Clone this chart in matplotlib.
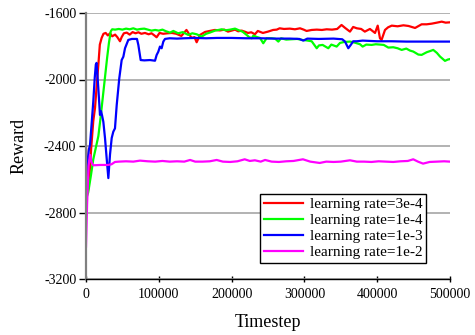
import matplotlib
matplotlib.use("Agg")
import matplotlib.pyplot as plt

# ---------------- data ----------------
red_x = [0, 2500, 5000, 7000, 10000, 12400, 15000, 17000, 19000, 21500, 24000, 27000, 30000, 33000, 36000,
         40000, 43000, 46700, 49000, 52000, 56000, 60000, 64000, 68000, 72000, 76000, 81000, 86000, 90000,
         94000, 97000, 101000, 106000, 112000, 118000, 124000, 131000, 138000, 145000, 149000, 152000,
         156600, 163500, 170000, 177000, 184000, 190000, 195000, 200000, 204700, 209000, 213900, 218000,
         222500, 227000, 232000, 236000, 243000, 250000, 257000, 262000, 266000, 272000, 280000, 287000,
         294000, 299000, 303000, 310000, 317000, 324000, 330600, 338000, 345000, 351000, 356000, 362600,
         367000, 372000, 378000, 383000, 390000, 397000, 400700, 403800, 406000, 410700, 415000, 420000,
         428000, 436000, 443000, 452000, 461000, 468000, 475000, 482000, 488600, 494000, 500000]
red_y = [-2400, -2680, -2560, -2420, -2250, -2170, -2020, -1910, -1790, -1750, -1725, -1720, -1735, -1722, -1740,
         -1730, -1745, -1770, -1745, -1722, -1718, -1730, -1715, -1722, -1716, -1725, -1720, -1728, -1722,
         -1735, -1746, -1720, -1725, -1722, -1720, -1725, -1738, -1702, -1750, -1745, -1776,
         -1732, -1714, -1708, -1702, -1705, -1700, -1712, -1706, -1700, -1710, -1706, -1712,
         -1720, -1716, -1728, -1708, -1720, -1712, -1702, -1700, -1692, -1696, -1694, -1698,
         -1692, -1700, -1708, -1702, -1700, -1702, -1698, -1700, -1696, -1672, -1690, -1712,
         -1684, -1692, -1696, -1712, -1696, -1720, -1676, -1752, -1762, -1702, -1686, -1676,
         -1680, -1674, -1678, -1690, -1668, -1668, -1664, -1658, -1652, -1658, -1656]

green_x = [0, 3000, 7000, 10000, 13000, 17000, 20000, 23000, 26000, 29000, 31500, 34000, 36000, 40000,
           45000, 50000, 55000, 60000, 65000, 70000, 75000, 80000, 85000, 90000, 95000, 100000, 105000,
           110000, 115400, 120000, 126500, 133000, 140500, 146000, 152000, 159000, 165000, 170000, 177200,
           182000, 186400, 192000, 198000, 204700, 210000, 215000, 220700, 224000, 227600, 230000, 235000,
           239000, 243500, 248000, 255000, 260000, 264200, 268000, 275000, 282000, 290000, 297000, 303000,
           310000, 316900, 320000, 325000, 332800, 337000, 344300, 348900, 355000, 362600, 369000, 376400,
           380000, 385000, 392400, 398000, 404000, 409000, 415300, 422000, 428000, 433600, 440000, 445000,
           449600, 456500, 461000, 468000, 472000, 477000, 482000, 486300, 490000, 493100, 497000, 500000]
green_y = [-2720, -2680, -2570, -2480, -2420, -2340, -2230, -2110, -1990, -1870, -1780, -1710, -1698, -1700,
           -1696, -1700, -1694, -1698, -1692, -1700, -1696, -1694, -1700, -1706, -1702, -1706, -1700,
           -1710, -1718, -1708, -1722, -1715, -1732, -1722, -1728, -1742, -1725, -1718, -1706,
           -1702, -1698, -1704, -1700, -1694, -1704, -1712, -1732, -1745, -1752, -1736, -1745,
           -1750, -1782, -1752, -1752, -1755, -1772, -1752, -1760, -1758, -1756, -1762, -1765,
           -1770, -1812, -1795, -1792, -1812, -1790, -1802, -1780, -1774, -1772, -1778, -1788,
           -1802, -1790, -1792, -1788, -1790, -1792, -1808, -1806, -1812, -1822, -1814, -1826,
           -1832, -1850, -1852, -1836, -1830, -1822, -1840, -1862, -1876, -1888, -1880, -1877]

blue_x = [0, 2000, 4000, 5500, 8000, 10000, 12000, 13500, 14500, 16900, 19200, 20600, 22000, 23800, 26100,
          28500, 30700, 33000, 35300, 37500, 39800, 42200, 45700, 49000, 51300, 53600, 58100, 63000, 70000,
          71900, 75100, 80000, 87900, 94800, 97000, 99300, 101600, 103900, 106200, 108500, 115000, 125000,
          135000, 150000, 165000, 180000, 200000, 220000, 240000, 260000, 280000, 293000, 298500, 304000,
          320000, 340000, 352000, 355800, 360300, 364000, 367000, 372000, 380000, 400000, 420000, 440000,
          460000, 480000, 500000]
blue_y = [-2640, -2500, -2420, -2394, -2250, -2133, -1990, -1910, -1900, -2051, -2213, -2190, -2215, -2254, -2352,
          -2480, -2593, -2450, -2352, -2314, -2294, -2153, -1993, -1883, -1863, -1812, -1762, -1756, -1756,
          -1792, -1883, -1885, -1883, -1887, -1853, -1833, -1802, -1812, -1772, -1756, -1752, -1754,
          -1752, -1750, -1752, -1750, -1750, -1752, -1752, -1754, -1754, -1756, -1766, -1754,
          -1756, -1754, -1758, -1772, -1812, -1790, -1770, -1770, -1766, -1770, -1770, -1772,
          -1772, -1772, -1772]

magenta_x = [0, 1500, 3500, 5500, 7800, 10000, 20000, 30000, 35000, 39800, 45000, 55000, 65000, 74200, 85000,
             95000, 105000, 115000, 125000, 135000, 143000, 150000, 160000, 170000, 179500, 188000, 198000,
             208000, 218000, 225000, 232000, 240000, 246000, 255000, 265000, 275000, 285000, 298000, 308000,
             321000, 330000, 340000, 350000, 362600, 372000, 382000, 392000, 402000, 412000, 422000, 432000,
             442000, 449500, 456000, 463000, 472000, 482000, 492000, 500000]
magenta_y = [-3005, -2750, -2520, -2454, -2500, -2516, -2514, -2514, -2510, -2496, -2494, -2492, -2494, -2488, -2492,
             -2494, -2490, -2494, -2492, -2494, -2484, -2494, -2494, -2492, -2484, -2494, -2496,
             -2492, -2480, -2490, -2486, -2494, -2484, -2494, -2496, -2492, -2490, -2480, -2494,
             -2502, -2494, -2496, -2494, -2486, -2494, -2494, -2496, -2492, -2494, -2496, -2492,
             -2490, -2480, -2494, -2506, -2496, -2494, -2492, -2494]

labels = ["learning rate=3e-4", "learning rate=1e-4", "learning rate=1e-3", "learning rate=1e-2"]
colors = ["#ff0000", "#00ff00", "#0000ff", "#ff00ff"]
x_ticks = [0, 100000, 200000, 300000, 400000, 500000]
y_ticks = [-3200, -2800, -2400, -2000, -1600]

# ---------------- plot ----------------
plt.rcParams['font.family'] = ['Liberation Serif', 'DejaVu Serif']

fig = plt.figure(figsize=(4.75, 3.35), dpi=100)
ax = fig.add_axes([86/475, 1-279/335, (450-86)/475, (279-13)/335])

series = [(red_x, red_y), (green_x, green_y), (blue_x, blue_y), (magenta_x, magenta_y)]
for (xs, ys), c, lab in zip(series, colors, labels):
    ax.plot(xs, ys, color=c, lw=1.6, label=lab)

ax.set_xlim(0, 500000)
ax.set_ylim(-3200, -1600)
ax.set_xticks(x_ticks)
ax.set_xticklabels([str(v) for v in x_ticks])
ax.set_yticks(y_ticks)
ax.set_yticklabels([str(v) for v in y_ticks])
ax.yaxis.grid(True, color="#a6a6a6", lw=1.2)
ax.set_axisbelow(True)
ax.spines['top'].set_visible(False)
ax.spines['right'].set_visible(False)
ax.spines['left'].set_color("#808080")
ax.spines['left'].set_linewidth(1.6)
ax.spines['bottom'].set_color("black")
ax.spines['bottom'].set_linewidth(1.0)
ax.tick_params(axis='y', direction='out', length=5, width=1, color='black', labelsize=10, pad=2)
ax.tick_params(axis='x', direction='inout', length=5, width=1, color='black', labelsize=10, pad=4)

ax.set_xlabel("Timestep", fontsize=13, labelpad=9)
ax.set_ylabel("Reward", fontsize=13, labelpad=12)

leg = ax.legend(loc='lower right', bbox_to_anchor=(426/475, 1-263/335), bbox_transform=fig.transFigure,
                fontsize=11, frameon=True, fancybox=False, edgecolor='black', framealpha=1,
                handlelength=2.6, handletextpad=0.4, labelspacing=0.15, borderpad=0.25, borderaxespad=0)
leg.get_frame().set_linewidth(1.0)

fig.savefig("out.png", dpi=100)
